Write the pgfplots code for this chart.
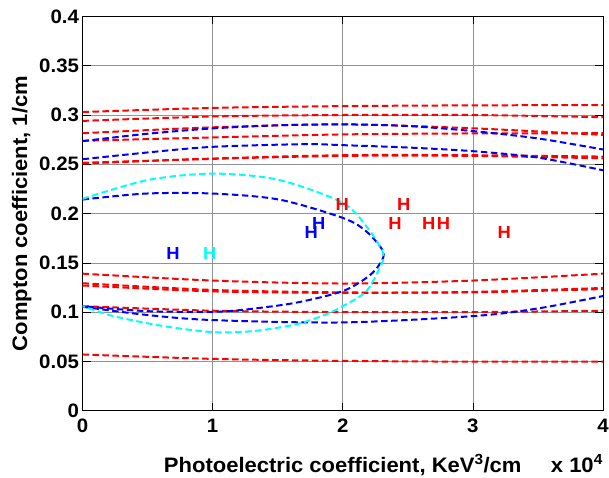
\documentclass[border=0pt]{standalone}
\usepackage{fontspec}
\setmainfont{Liberation Sans}[FakeStretch=1.05]
\usepackage{pgfplots}
\pgfplotsset{compat=1.18}
\definecolor{mred}{rgb}{1,0,0}
\definecolor{mblue}{rgb}{0,0,1}
\definecolor{mcyan}{rgb}{0,1,1}
\begin{document}
\begin{tikzpicture}
\begin{axis}[
 scale only axis, width=521.6pt, height=395pt,
 xmin=0, xmax=4, ymin=0, ymax=0.4,
 xtick={0,1,2,3,4},
 ytick={0,0.05,0.1,0.15,0.2,0.25,0.3,0.35,0.4},
 grid=major, major grid style={draw=gray!85, line width=0.6pt},
 axis line style={line width=0.8pt},
 tick align=inside, tick pos=both, major tick length=8pt,
 tick style={black, line width=0.6pt},
 /pgf/number format/assume math mode=true,
 yticklabel style={/pgf/number format/fixed, /pgf/number format/precision=2},
 xticklabel style={yshift=-5pt},
 tick label style={font=\fontsize{19.5}{22}\selectfont\bfseries},
 label style={font=\fontsize{21}{24}\selectfont\bfseries},
 xlabel={Photoelectric coefficient, KeV\textsuperscript{3}/cm},
 xlabel style={at={(axis description cs:0.5,0)}, anchor=base, yshift=-61.5pt},
 ylabel={Compton coefficient, 1/cm},
 ylabel style={at={(axis description cs:-0.117,0.5)}, anchor=center},
 clip mode=individual,
 every axis plot/.append style={line width=2pt, dash pattern=on 6.5pt off 3.5pt},
]
\coordinate (bl) at (rel axis cs:0,0);
\coordinate (tr) at (rel axis cs:1,1);
% red lines
\addplot[mred, smooth] coordinates {(0,0.303) (1,0.3072) (2,0.309) (3,0.3098) (4,0.310)};
\addplot[mred, smooth] coordinates {(0,0.294) (1,0.2985) (2,0.300) (3,0.300) (4,0.2978)};
\addplot[mred, smooth] coordinates {(0,0.2815) (1,0.2875) (2,0.2905) (3,0.2865) (4,0.2798)};
\addplot[mred, smooth] coordinates {(0,0.2738) (1,0.2772) (2,0.2803) (3,0.2813) (4,0.2815)};
\addplot[mred, smooth] coordinates {(0,0.2507) (1,0.2558) (2,0.2592) (3,0.2592) (4,0.2578)};
\addplot[mred, smooth] coordinates {(0,0.2515) (1,0.2555) (2,0.2585) (3,0.2585) (4,0.2560)};
\addplot[mred, smooth] coordinates {(0,0.139) (1,0.132) (2,0.129) (3,0.132) (4,0.139)};
\addplot[mred, smooth] coordinates {(0,0.1293) (1,0.1225) (2,0.120) (3,0.120) (4,0.1234)};
\addplot[mred, smooth] coordinates {(0,0.127) (1,0.121) (2,0.1195) (3,0.1205) (4,0.1245)};
\addplot[mred, smooth] coordinates {(0,0.106) (1,0.1014) (2,0.100) (3,0.100) (4,0.1014)};
\addplot[mred, smooth] coordinates {(0,0.057) (1,0.0525) (2,0.0505) (3,0.0497) (4,0.0497)};
% blue curves
\addplot[mblue, smooth] coordinates {(0,0.2735) (0.5,0.281) (1,0.2864) (1.5,0.2895) (2,0.2905) (2.5,0.2888) (3,0.2837) (3.5,0.2762) (4,0.265)};
\addplot[mblue, smooth] coordinates {(0,0.2551) (0.5,0.262) (1,0.2677) (1.7,0.2704) (2,0.2694) (2.5,0.267) (3,0.2633) (3.5,0.2568) (4,0.2439)};
\addplot[mblue, smooth] coordinates {(0,0.2142) (0.49,0.2203) (1,0.2203) (1.51,0.2142) (2,0.1956) (2.18,0.182) (2.31,0.1618) (2.29,0.15) (2.2,0.1365) (2,0.1213) (1.64,0.1095) (1.26,0.1027) (1,0.1003) (0.49,0.101) (0,0.106)};
\addplot[mblue, smooth] coordinates {(0,0.1054) (0.5,0.097) (1,0.0919) (2,0.0895) (3,0.0959) (3.5,0.1037) (4,0.1163)};
% cyan curve
\addplot[mcyan, smooth] coordinates {(0,0.2149) (0.5,0.234) (1,0.2405) (1.5,0.2344) (2,0.2108) (2.2,0.1838) (2.31,0.16) (2.29,0.1466) (2.18,0.121) (2,0.106) (1.87,0.0976) (1.64,0.0875) (1.31,0.0807) (1,0.0797) (0.62,0.0858) (0.235,0.096) (0,0.106)};
% H markers
\addplot[mred, only marks, mark=text, text mark={\color{mred}\fontsize{17.5}{20}\selectfont\bfseries H}] coordinates {(1.995,0.209) (2.468,0.209) (2.402,0.1896) (2.66,0.1896) (2.775,0.1896) (3.241,0.1805)};
\addplot[mblue, only marks, mark=text, text mark={\color{mblue}\fontsize{17.5}{20}\selectfont\bfseries H}] coordinates {(1.816,0.1896) (1.757,0.1805) (0.695,0.159)};
\addplot[mcyan, only marks, mark=text, text mark={\color{mcyan}\fontsize{17.5}{20}\selectfont\bfseries H}] coordinates {(0.977,0.159)};
\node[anchor=base east, font=\fontsize{21}{24}\selectfont\bfseries, inner sep=0pt] at (axis description cs:1,0) [yshift=-61.5pt] {x 10\textsuperscript{4}};
\end{axis}
\pgfresetboundingbox
\path[use as bounding box] ([shift={(-82.7pt,-67.5pt)}]bl) rectangle ([shift={(6pt,16.5pt)}]tr);
\end{tikzpicture}
\end{document}
